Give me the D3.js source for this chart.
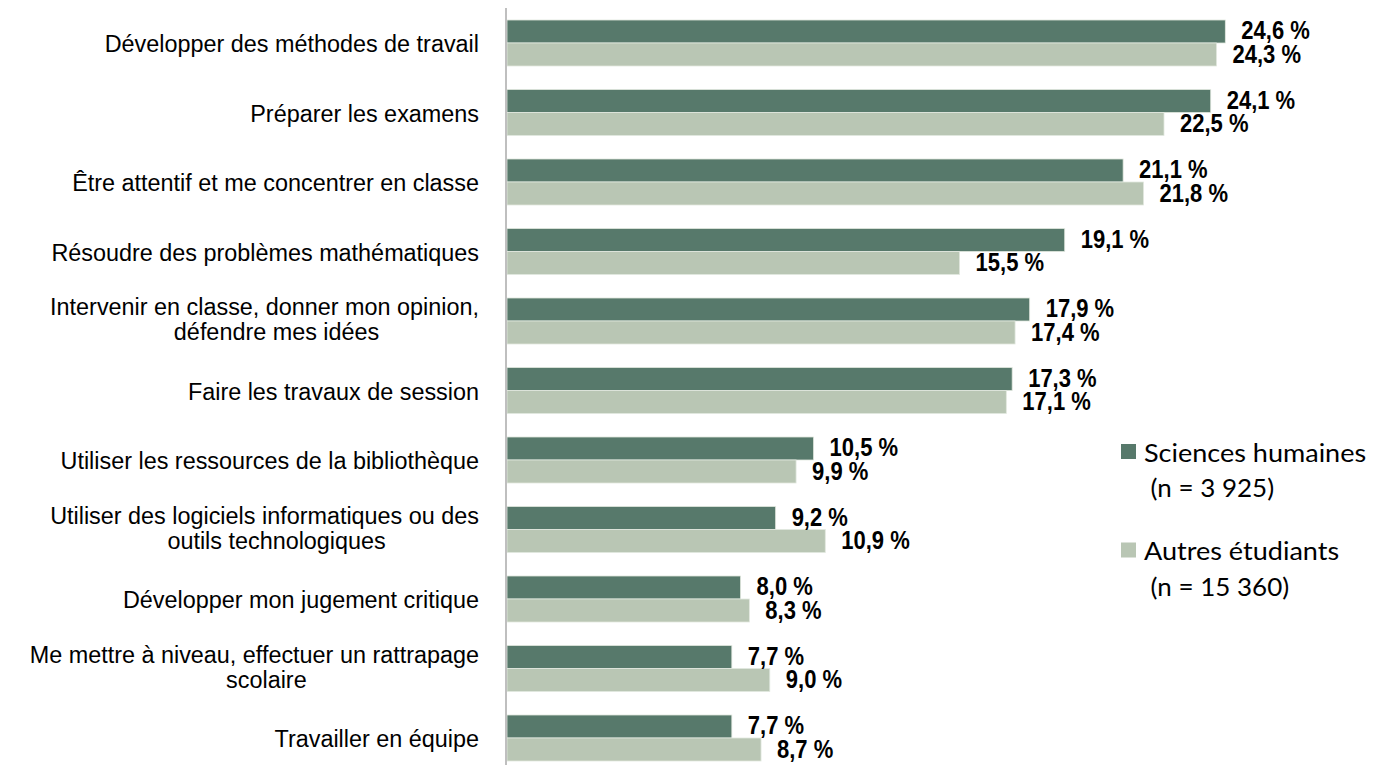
<!DOCTYPE html>
<html>
<head>
<meta charset="utf-8">
<script src="https://cdn.jsdelivr.net/npm/d3@7"></script>
<style>
  body { margin: 0; background: #fff; }
  svg { display: block; }
  .cat { font-family: "Liberation Sans", Arial, sans-serif; font-size: 24.5px; fill: #000; }
  .val { font-family: "Liberation Sans", Arial, sans-serif; font-size: 25px; font-weight: bold; fill: #000; }
  .leg { font-family: Lato, "Open Sans", sans-serif; font-size: 25.5px; fill: #000; }
</style>
</head>
<body>
<div id="chart"></div>
<script>
// categories, top to bottom (two-line labels split with "|")
var categories = [
  "Développer des méthodes de travail",
  "Préparer les examens",
  "Être attentif et me concentrer en classe",
  "Résoudre des problèmes mathématiques",
  "Intervenir en classe, donner mon opinion,|défendre mes idées",
  "Faire les travaux de session",
  "Utiliser les ressources de la bibliothèque",
  "Utiliser des logiciels informatiques ou des|outils technologiques",
  "Développer mon jugement critique",
  "Me mettre à niveau, effectuer un rattrapage|scolaire",
  "Travailler en équipe"
];

var seriesNames = ["Sciences humaines", "Autres étudiants"];
var seriesCounts = ["(n = 3 925)", "(n = 15 360)"];

var sciencesHumaines = [24.6, 24.1, 21.1, 19.1, 17.9, 17.3, 10.5, 9.2, 8.0, 7.7, 7.7];
var autresEtudiants = [24.3, 22.5, 21.8, 15.5, 17.4, 17.1, 9.9, 10.9, 8.3, 9.0, 8.7];

var colors = ["#57796b", "#b9c6b4"];

var width = 1373, height = 765;

var svg = d3.select("#chart").append("svg")
  .attr("width", width)
  .attr("height", height);

var x = d3.scaleLinear()
  .domain([0, 30])
  .range([507, 507 + 876]);

var y = d3.scaleBand()
  .domain(categories)
  .range([8.25, 772.75])
  .paddingInner(0.338)
  .paddingOuter(0.169);

var ySub = d3.scaleBand()
  .domain([0, 1])
  .range([0, y.bandwidth()]);

var rows = categories.map(function(c, i) {
  return { cat: c, values: [sciencesHumaines[i], autresEtudiants[i]] };
});

// bars
var groups = svg.selectAll("g.row")
  .data(rows)
  .enter().append("g")
  .attr("class", "row")
  .attr("transform", function(d) { return "translate(0," + y(d.cat) + ")"; });

groups.selectAll("rect")
  .data(function(d) { return d.values; })
  .enter().append("rect")
  .attr("x", x(0))
  .attr("y", function(d, i) { return ySub(i); })
  .attr("width", function(d) { return x(d) - x(0); })
  .attr("height", ySub.bandwidth())
  .attr("fill", function(d, i) { return colors[i]; })
  .attr("stroke", "#e2e8df")
  .attr("stroke-width", 0.8);

// value labels
var valOffset = [8, 8];
groups.selectAll("text.val")
  .data(function(d) { return d.values; })
  .enter().append("text")
  .attr("class", "val")
  .attr("transform", function(d, i) {
    var ty = ySub(i) + ySub.bandwidth() / 2 + valOffset[i];
    return "translate(" + (x(d) + 16) + "," + ty + ") scale(0.88,1)";
  })
  .text(function(d) { return d3.format(".1f")(d).replace(".", ",") + " %"; });

// axis line
svg.append("line")
  .attr("x1", x(0) - 1).attr("x2", x(0) - 1)
  .attr("y1", 8).attr("y2", height)
  .attr("stroke", "#bfbfbf")
  .attr("stroke-width", 2);

// category labels
var labelRight = 479;
var sx = 0.955;
groups.each(function(d) {
  var g = d3.select(this);
  var lines = d.cat.split("|");
  var mid = y.bandwidth() / 2;
  if (lines.length === 1) {
    g.append("text").attr("class", "cat")
      .attr("transform", "translate(" + labelRight + "," + (mid + 9) + ") scale(" + sx + ",1)")
      .attr("text-anchor", "end")
      .text(lines[0]);
  } else {
    var first = g.append("text").attr("class", "cat")
      .attr("transform", "translate(" + labelRight + "," + (mid - 6) + ") scale(" + sx + ",1)")
      .attr("text-anchor", "end")
      .text(lines[0]);
    var w = first.node().getComputedTextLength() * sx;
    g.append("text").attr("class", "cat")
      .attr("transform", "translate(" + (labelRight - w / 2 + 12) + "," + (mid + 19) + ") scale(" + sx + ",1)")
      .attr("text-anchor", "middle")
      .text(lines[1]);
  }
});

// legend
var legend = svg.append("g").attr("transform", "translate(1121,444)");
var leg = legend.selectAll("g")
  .data(seriesNames)
  .enter().append("g")
  .attr("transform", function(d, i) { return "translate(0," + (i * 98.5) + ")"; });

leg.append("rect")
  .attr("width", 15).attr("height", 15)
  .attr("fill", function(d, i) { return colors[i]; });

leg.append("text").attr("class", "leg")
  .attr("transform", "translate(23,17.5) scale(1.06,1)")
  .text(function(d) { return d; });

leg.append("text").attr("class", "leg")
  .attr("transform", "translate(29.5,53) scale(1.02,1)")
  .text(function(d, i) { return seriesCounts[i]; });
</script>
</body>
</html>
